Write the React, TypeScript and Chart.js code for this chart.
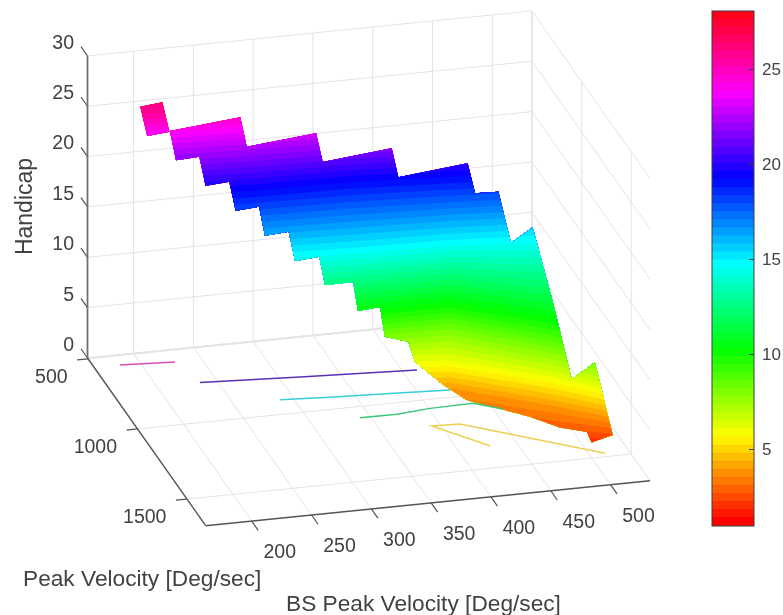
import React, { useEffect, useRef } from "react";
import { Chart, registerables } from "chart.js";

const bsTicks = [200, 250, 300, 350, 400, 450, 500];
const pvTicks = [500, 1000, 1500];
const handicapTicks = [0, 5, 10, 15, 20, 25, 30];
const colorTicks = [5, 10, 15, 20, 25];
const colorMin = 0.95;
const colorMax = 28.05;
const bsRange = [161.5, 533];
const pvRange = [494, 1690];

// Surface outline: [BS peak velocity, peak velocity, handicap]
const patchBS = [199.7, 219.3, 219.7, 200.1];
const patchPV = [566.2, 551.8, 617.8, 631.5];
const patchH = [25.5, 25.5, 23.5, 23.5];
const edgeBS = [219.4, 280.2, 277.3, 338.8, 336.5, 397.9, 398.2, 454.5, 454.8, 473.9, 475.1, 494.9, 495.2, 491.6, 510.8, 517.9, 500.3, 499.5, 479.3, 460.2, 418.8, 402.2, 381.8, 379.3, 361, 362.5, 343.1, 344.1, 320.6, 323.3, 302.1, 302.1, 281.4, 284.4, 264, 263.9, 243.2, 243.2, 223];
const edgePV = [627.5, 603.7, 703.2, 660.8, 755.8, 711.2, 774.1, 794.9, 865.8, 870.8, 984, 963.3, 1158.9, 1398.4, 1401.4, 1494.6, 1495.9, 1455.3, 1428.7, 1357.4, 1217, 1181.7, 1141.7, 1104.5, 1089.1, 1022, 1033.9, 971.3, 972.6, 880.8, 892.8, 828.2, 838.8, 742.3, 753, 689.7, 700.4, 637.1, 645.6];
const edgeH = [23.7, 24, 22.5, 22.5, 21, 21, 19, 20, 18, 18, 14.5, 15.5, 11, 6.5, 8, 2, 1.5, 2, 2.3, 2.6, 2.8, 4, 6, 7.5, 8, 10, 10, 12, 12, 13.5, 13.5, 15.5, 15.5, 17, 17, 19, 19, 21, 21];

// Level curves of the surface
const isoH = [28, 25, 23.5, 19, 14.5, 10, 7.5, 5.5, 3.5, 1.5, 0.95];
const isoBS = [
  [203.5, 299.9, 380.7, 461.4, 542.2, 623.0],
  [189.3, 286.3, 367, 447.8, 528.6, 609.4],
  [187.7, 286.3, 368.2, 449.6, 530.4, 611.1],
  [179.6, 277.1, 360.1, 440.9, 521.7, 601.4],
  [167.2, 264.7, 346.6, 429, 509.8, 590.6],
  [159.1, 254.9, 337.4, 420.9, 490.7, 555],
  [160.3, 254, 334.7, 417.2, 485.3, 549.6],
  [158.7, 252.4, 332, 411.7, 481, 546.9],
  [154.9, 248.6, 326.6, 408.5, 477.2, 544.2],
  [141.3, 234.9, 313, 396.5, 469, 544.3],
  [127.8, 221.5, 299.5, 377.5, 455.6, 533.6],
];
const isoPV = [
  [416, 464, 498, 532, 566, 600],
  [587.6, 628.5, 662.7, 696.8, 731, 765.1],
  [606.6, 627.5, 648.4, 675.9, 710, 744.2],
  [704.6, 738.9, 746.4, 780.6, 814.7, 862.2],
  [855.5, 889.8, 910.7, 924.8, 959, 993.1],
  [953.4, 1007.7, 1021.8, 1022.7, 1190, 1423.9],
  [938.8, 1019.6, 1053.8, 1068, 1255.2, 1489.1],
  [958, 1039, 1086.4, 1133.9, 1307.8, 1521.7],
  [1003.7, 1084.5, 1152, 1172.8, 1353.4, 1554],
  [1169.1, 1250, 1317.4, 1318.3, 1452.3, 1553],
  [1332, 1412.9, 1480.3, 1547.7, 1615.2, 1682.6],
];

// Contours on the floor
const contour25BS = [183, 227.6];
const contour25PV = [562.5, 579.6];
const contour20BS = [235.8, 316.9, 412];
const contour20PV = [733, 763.8, 796];
const contour15BS = [288.8, 329.1, 378, 426.8];
const contour15PV = [901.4, 919.2, 934.3, 951.5];
const contour10BS = [341.3, 372.1, 401.1, 437.4, 457.7];
const contour10PV = [1075, 1077.5, 1059.9, 1055.5, 1113.8];
const contour5BS = [427.3, 392.7, 415.9, 513];
const contour5PV = [1349.4, 1178.8, 1184.5, 1477.3];

const FONT = '"Liberation Sans", Arial, sans-serif';
const TEXT = "#424242";
const GRID = "#e4e4e4";
const AXIS = "#555555";
const LEVELS = 64;

function project(bs: number, pv: number, h: number) {
  const u = (bs - bsRange[0]) * 1.196;
  const t = (pv - pvRange[0]) / (pvRange[1] - pvRange[0]);
  return { x: 87.5 + u + 118.2 * t, y: 358 - 0.1013 * u + 167.7 * t - 10.07 * h };
}

function hsvColor(i: number) {
  const h = (i / LEVELS) * 6;
  const k = Math.floor(h);
  const f = h - k;
  const tbl = [[1, f, 0], [1 - f, 1, 0], [0, 1, f], [0, 1 - f, 1], [f, 0, 1], [1, 0, 1 - f]][k % 6];
  return `rgb(${tbl.map((c) => Math.round(c * 255)).join(",")})`;
}

const levelValue = (i: number) => colorMin + (i * (colorMax - colorMin)) / LEVELS;

function isoCurve(h: number) {
  let r = 0;
  while (r < isoH.length - 2 && h < isoH[r + 1]) r++;
  const f = Math.max(0, Math.min(1, (isoH[r] - h) / (isoH[r] - isoH[r + 1])));
  return isoBS[r].map((b, c) => {
    const bs = b + (isoBS[r + 1][c] - b) * f;
    const pv = isoPV[r][c] + (isoPV[r + 1][c] - isoPV[r][c]) * f;
    return project(bs, pv, h);
  });
}

const surfaceClip = {
  id: "surfaceClip",
  beforeDatasetDraw(chart: any, args: any) {
    if (!chart.data.datasets[args.index].surfaceBand) return;
    const { x, y } = chart.scales;
    const ctx = chart.ctx;
    ctx.save();
    ctx.beginPath();
    const trace = (b: number[], p: number[], h: number[]) => {
      b.forEach((v, i) => {
        const q = project(v, p[i], h[i]);
        const px = x.getPixelForValue(q.x);
        const py = y.getPixelForValue(q.y);
        if (i === 0) ctx.moveTo(px, py);
        else ctx.lineTo(px, py);
      });
      ctx.closePath();
    };
    trace(patchBS, patchPV, patchH);
    trace(edgeBS, edgePV, edgeH);
    ctx.clip();
  },
  afterDatasetDraw(chart: any, args: any) {
    if (chart.data.datasets[args.index].surfaceBand) chart.ctx.restore();
  },
};

Chart.register(surfaceClip);
Chart.register(...registerables);

function line(points: { x: number; y: number }[], color: string, width: number) {
  return { data: points, borderColor: color, borderWidth: width, pointRadius: 0, fill: false, tension: 0 };
}

function contour(b: number[], p: number[], color: string) {
  return line(b.map((v, i) => project(v, p[i], 0)), color, 1.4);
}

function buildDatasets() {
  const [b0, b1] = bsRange;
  const [p0, p1] = pvRange;
  const axes = [
    line([project(b0, p0, 0), project(b0, p0, 30)], "#707070", 1.8),
    line([project(b0, p0, 0), project(b0, p1, 0)], AXIS, 1.4),
    line([project(b0, p1, 0), project(b1, p1, 0)], AXIS, 1.4),
    ...handicapTicks.map((h) => line([project(b0, p0, h), project(b0, p0 - 66, h)], AXIS, 1.2)),
    ...pvTicks.map((p) => line([project(b0, p, 0), project(b0 - 9.2, p, 0)], AXIS, 1.2)),
    ...bsTicks.map((b) => line([project(b, p1, 0), project(b, p1 + 66, 0)], AXIS, 1.2)),
  ];
  const contours = [
    contour(contour25BS, contour25PV, "#d84cb4"),
    contour(contour20BS, contour20PV, "#5a30b8"),
    contour(contour15BS, contour15PV, "#38cfd6"),
    contour(contour10BS, contour10PV, "#3cc878"),
    contour(contour5BS, contour5PV, "#efcf52"),
  ];
  const bands: any[] = [];
  for (let i = 0; i < LEVELS; i++) {
    bands.push({
      data: isoCurve(levelValue(i)),
      surfaceBand: true,
      backgroundColor: hsvColor(i),
      borderWidth: 0,
      pointRadius: 0,
      tension: 0,
      fill: { value: 615 },
    });
  }
  const grid = [
    line([project(b0, p0, 0), project(b1, p0, 0)], GRID, 1.5),
    line([project(b1, p0, 0), project(b1, p1, 0)], GRID, 1),
    line([project(b1, p0, 0), project(b1, p0, 30)], GRID, 1.2),
    ...handicapTicks.flatMap((h) => [
      line([project(b0, p0, h), project(b1, p0, h)], GRID, 1),
      line([project(b1, p0, h), project(b1, p1, h)], GRID, 1),
    ]),
    ...bsTicks.flatMap((b) => [
      line([project(b, p0, 0), project(b, p0, 30)], GRID, 1),
      line([project(b, p0, 0), project(b, p1, 0)], GRID, 1),
    ]),
    ...pvTicks.flatMap((p) => [
      line([project(b0, p, 0), project(b1, p, 0)], GRID, 1),
      line([project(b1, p, 0), project(b1, p, 30)], GRID, 1),
    ]),
  ];
  return [...axes, ...contours, ...bands, ...grid];
}

const axisText = {
  id: "axisText",
  afterDraw(chart: any) {
    const { x, y } = chart.scales;
    const ctx = chart.ctx;
    const put = (s: string, q: { x: number; y: number }, dx: number, dy: number, align: CanvasTextAlign) => {
      ctx.textAlign = align;
      ctx.fillText(s, x.getPixelForValue(q.x) + dx, y.getPixelForValue(q.y) + dy);
    };
    ctx.save();
    ctx.fillStyle = TEXT;
    ctx.textBaseline = "middle";
    ctx.font = `19.5px ${FONT}`;
    handicapTicks.forEach((h) => put(String(h), project(bsRange[0], pvRange[0], h), -13.5, -12.5, "right"));
    pvTicks.forEach((p) => put(String(p), project(bsRange[0], p, 0), -20.5, 18.5, "right"));
    bsTicks.forEach((b) => put(String(b), project(b, pvRange[1], 0), 28, 32, "center"));
    ctx.font = `22.7px ${FONT}`;
    ctx.textAlign = "left";
    ctx.fillText("Peak Velocity [Deg/sec]", 23, 580);
    ctx.fillText("BS Peak Velocity [Deg/sec]", 286, 605);
    ctx.translate(32, 206.5);
    ctx.rotate(-Math.PI / 2);
    ctx.textAlign = "center";
    ctx.textBaseline = "alphabetic";
    ctx.font = `23px ${FONT}`;
    ctx.fillText("Handicap", 0, 0);
    ctx.restore();
  },
};

const barFrame = {
  id: "barFrame",
  afterDatasetsDraw(chart: any) {
    const { left, right, top, bottom } = chart.chartArea;
    const ctx = chart.ctx;
    ctx.save();
    ctx.strokeStyle = "#3c3c3c";
    ctx.lineWidth = 1;
    ctx.strokeRect(left, top, right - left, bottom - top);
    colorTicks.forEach((t) => {
      const py = Math.round(chart.scales.y.getPixelForValue(t)) + 0.5;
      ctx.beginPath();
      ctx.moveTo(right - 5, py);
      ctx.lineTo(right, py);
      ctx.stroke();
    });
    ctx.restore();
  },
};

export default function App() {
  const mainRef = useRef<HTMLCanvasElement>(null);
  const barRef = useRef<HTMLCanvasElement>(null);

  useEffect(() => {
    document.body.style.margin = "0";
    const main = new Chart(mainRef.current as HTMLCanvasElement, {
      type: "line",
      data: { datasets: buildDatasets() as any },
      plugins: [axisText],
      options: {
        animation: false,
        responsive: false,
        events: [],
        layout: { padding: 0 },
        plugins: { legend: { display: false }, tooltip: { enabled: false }, filler: { drawTime: "beforeDatasetDraw" } as any },
        scales: {
          x: { type: "linear", min: 0, max: 783, display: false },
          y: { type: "linear", min: 0, max: 615, reverse: true, display: false },
        },
      },
    });
    const barSets = [];
    for (let i = 0; i < LEVELS; i++) {
      barSets.push({
        data: [[levelValue(i), Math.min(colorMax, levelValue(i + 1) + 0.03)]],
        backgroundColor: hsvColor(i),
        borderWidth: 0,
        barPercentage: 1,
        categoryPercentage: 1,
        grouped: false,
      });
    }
    const bar = new Chart(barRef.current as HTMLCanvasElement, {
      type: "bar",
      data: { labels: [""], datasets: barSets as any },
      plugins: [barFrame],
      options: {
        animation: false,
        responsive: false,
        events: [],
        layout: { padding: { left: 12, top: 11, bottom: 14, right: 0 } },
        plugins: { legend: { display: false }, tooltip: { enabled: false } },
        scales: {
          x: { display: false },
          y: {
            position: "right",
            min: colorMin,
            max: colorMax,
            afterBuildTicks: (s: any) => {
              s.ticks = colorTicks.map((value) => ({ value }));
            },
            afterFit: (s: any) => {
              s.width = 29;
              s.paddingTop = 0;
              s.paddingBottom = 0;
            },
            grid: { drawOnChartArea: false, drawTicks: false },
            border: { display: false },
            ticks: { padding: 8, labelOffset: 1.5, color: TEXT, font: { family: FONT, size: 17 } },
          },
        },
      },
    });
    return () => {
      main.destroy();
      bar.destroy();
    };
  }, []);

  return (
    <div style={{ position: "absolute", left: 0, top: 0, width: 783, height: 615, background: "#fff", overflow: "hidden" }}>
      <canvas ref={mainRef} width={783} height={615} style={{ position: "absolute", left: 0, top: 0, display: "block" }} />
      <canvas ref={barRef} width={83} height={540} style={{ position: "absolute", left: 700, top: 0, display: "block" }} />
    </div>
  );
}
